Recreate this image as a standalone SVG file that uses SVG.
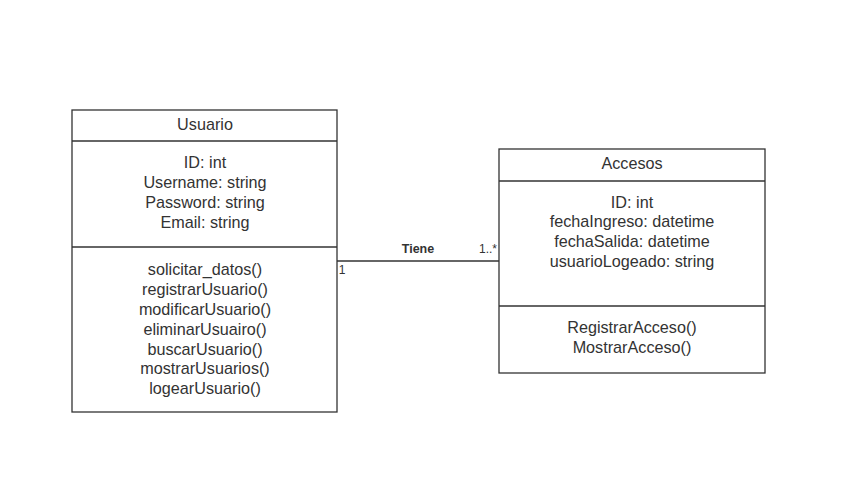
<svg xmlns="http://www.w3.org/2000/svg" width="844" height="502" viewBox="0 0 844 502">
<style>
.box{fill:#fff;stroke:#333;stroke-width:1.3}
.div{stroke:#333;stroke-width:1.3}
text{font-family:"Liberation Sans",Arial,sans-serif;fill:#333;font-size:16.2px;text-anchor:middle}
.lbl{font-size:12px}
.b{font-weight:bold;font-size:12.5px}
</style>
<rect width="844" height="502" fill="#fff"/>
<g id="connectors">
<line x1="337" y1="261" x2="499" y2="261" stroke="#333" stroke-width="1.3"/>
<text class="lbl b" x="418" y="253">Tiene</text>
<text class="lbl" x="488" y="253">1..*</text>
<text class="lbl" x="342" y="274">1</text>
</g>
<g id="usuario">
<rect class="box" x="72" y="110" width="265" height="302"/>
<line class="div" x1="72" y1="141" x2="337" y2="141"/>
<line class="div" x1="72" y1="247" x2="337" y2="247"/>
<text x="205" y="130">Usuario</text>
<text x="205" y="168">ID: int</text>
<text x="205" y="188">Username: string</text>
<text x="205" y="208">Password: string</text>
<text x="205" y="228">Email: string</text>
<text x="205" y="275">solicitar_datos()</text>
<text x="205" y="295">registrarUsuario()</text>
<text x="205" y="315">modificarUsuario()</text>
<text x="205" y="335">eliminarUsuairo()</text>
<text x="205" y="355">buscarUsuario()</text>
<text x="205" y="374">mostrarUsuarios()</text>
<text x="205" y="394">logearUsuario()</text>
</g>
<g id="accesos">
<rect class="box" x="499" y="149" width="266" height="224"/>
<line class="div" x1="499" y1="181" x2="765" y2="181"/>
<line class="div" x1="499" y1="306" x2="765" y2="306"/>
<text x="632" y="169">Accesos</text>
<text x="632" y="208">ID: int</text>
<text x="632" y="227">fechaIngreso: datetime</text>
<text x="632" y="247">fechaSalida: datetime</text>
<text x="632" y="267">usuarioLogeado: string</text>
<text x="632" y="333">RegistrarAcceso()</text>
<text x="632" y="353">MostrarAcceso()</text>
</g>
</svg>
